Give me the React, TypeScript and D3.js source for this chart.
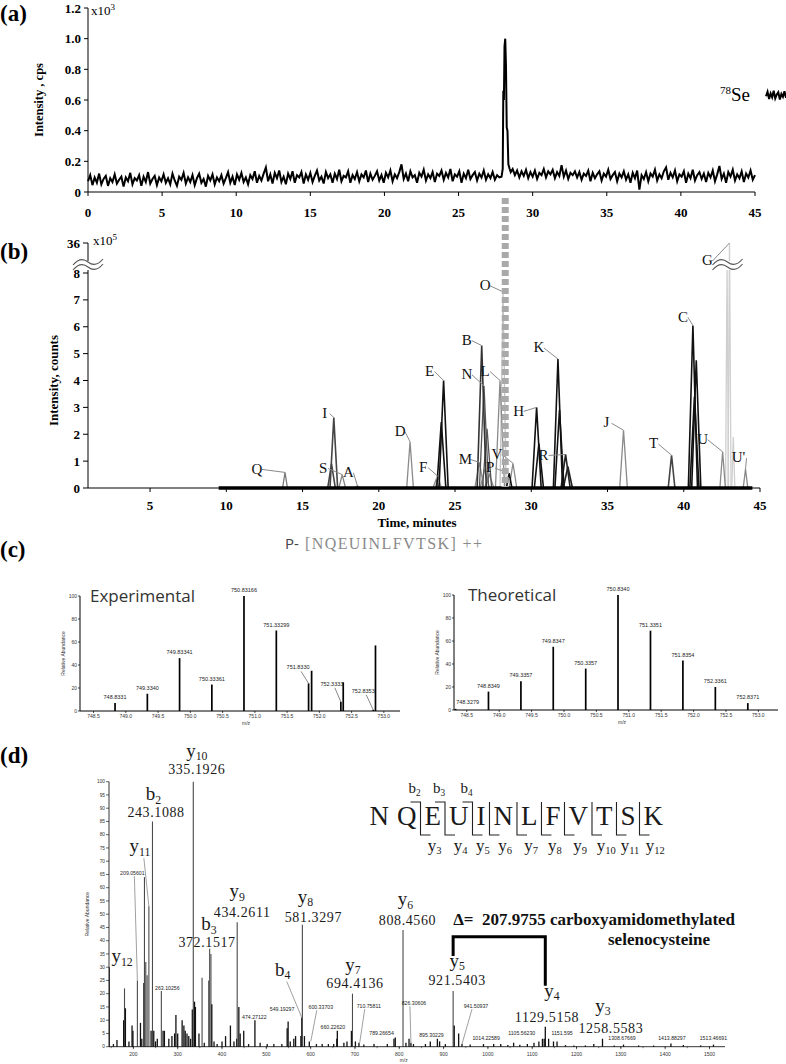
import * as d3 from "d3";

const W = 786;
const H = 1064;
const SERIF = "'Liberation Serif', 'DejaVu Serif', serif";
const SANS = "'Liberation Sans', 'DejaVu Sans', sans-serif";
const ROUND = "'Open Sans', 'Noto Sans', sans-serif";

/* ---------- (a) 78Se ICP-MS trace, cps, one reading every 0.15 min ---------- */
const seStep = 0.15;
const seNoise = [
  70, 110, 45, 95, 60, 120, 50, 85, 105, 40, 90, 65, 115, 55, 80, 100, 35, 95, 70, 125,
  50, 90, 75, 110, 40, 100, 65, 130, 55, 85, 105, 45, 95, 70, 115, 60, 90, 50, 120, 75,
  40, 100, 80, 125, 55, 95, 65, 110, 45, 90, 120, 60, 85, 35, 105, 75, 115, 50, 95, 70,
  110, 55, 90, 130, 60, 100, 45, 115, 80, 125, 65, 95, 50, 110, 85, 135, 60, 105, 75, 120,
  160, 70, 115, 55, 125, 90, 140, 65, 100, 50, 120, 85, 135, 60, 110, 95, 130, 55, 115, 80,
  125, 65, 105, 140, 75, 100, 55, 130, 90, 115, 60, 120, 85, 145, 70, 105, 95, 135, 60, 110,
  85, 130, 70, 115, 95, 140, 65, 120, 80, 105, 135, 75, 110, 60, 125, 95, 140, 70, 115, 90,
  130, 180, 85, 120, 70, 135, 95, 110, 60, 125, 100, 145, 75, 115, 90, 130, 65, 120, 105, 140,
  80, 125, 95, 150, 70, 115, 100, 135, 60, 120, 90, 145, 85, 110, 130, 75, 120, 95, 140, 80,
  115, 90, 130, 80, 110, 95, 100, 100, 100, 100, 100, 150, 110, 140, 95, 135, 105, 145, 90, 130,
  100, 140, 85, 125, 110, 150, 95, 135, 115, 145, 90, 130, 105, 175, 100, 140, 85, 125, 110, 135,
  95, 130, 80, 120, 105, 140, 70, 125, 90, 115, 135, 75, 120, 100, 145, 85, 110, 130, 70, 120,
  95, 135, 80, 115, 60, 125, 90, 140, 15, 110, 85, 130, 70, 120, 100, 145, 75, 115, 90, 135,
  160, 80, 125, 95, 140, 70, 115, 100, 135, 60, 120, 90, 145, 75, 110, 130, 85, 120, 65, 125,
  95, 140, 70, 115, 170, 85, 120, 60, 130, 100, 145, 75, 115, 90, 135, 65, 120, 95, 140, 80,
  110,
];
// the Se peak itself, [min, cps]
const sePeak: [number, number][] = [
  [27.9, 100], [27.98, 150], [28.02, 660], [28.06, 600], [28.1, 950], [28.15, 1000],
  [28.2, 820], [28.25, 420], [28.3, 400], [28.36, 180], [28.45, 150], [28.52, 130],
];
const cpsTicks = [0, 200, 400, 600, 800, 1000, 1200];
const minuteTicks = [0, 5, 10, 15, 20, 25, 30, 35, 40, 45];

/* ---------- (b) extracted ion chromatograms, counts x10^5 ---------- */
const peakNames = ["Q", "I", "S", "A", "D", "F", "E", "M", "B", "N", "L", "O", "V", "P", "H", "K", "R", "J", "T", "C", "U", "G", "U'"];
const peakTimes = [13.85, 17.05, 17.6, 18.6, 22.05, 23.9, 24.25, 26.6, 26.75, 26.9, 27.95, 28.15, 28.8, 28.55, 30.35, 31.75, 32.25, 36.05, 39.2, 40.6, 42.55, 43.0, 44.05];
const peakHeights = [0.58, 2.62, 0.5, 0.08, 1.72, 0.42, 4.0, 0.95, 5.3, 3.8, 4.0, 7.3, 0.92, 0.55, 3.0, 4.8, 1.25, 2.15, 1.22, 6.05, 1.35, 36, 0.7];
const shoulderOf = ["I", "F", "E", "M", "M", "N", "H", "R", "K", "C", "C", "G", "G"];
const shoulderTimes = [16.9, 23.75, 24.1, 26.95, 27.25, 27.1, 30.5, 32.4, 31.85, 40.7, 40.82, 42.84, 43.25];
const shoulderHeights = [0.9, 0.3, 2.45, 0.7, 0.5, 2.2, 1.65, 0.8, 2.9, 3.4, 4.75, 14, 1.9];
const countTicks = [0, 1, 2, 3, 4, 5, 6, 7, 8, 36];
const ridgeSpan = [9.5, 44.5];

/* ---------- (c) isotope envelopes ---------- */
const expMz = [748.8331, 749.334, 749.8334, 750.3336, 750.8317, 751.333, 751.833, 751.88, 752.3333, 752.37, 752.8353, 752.87];
const expAbund = [7, 15, 46, 23, 100, 70, 24, 35, 8, 25, 1, 57];
const expTags = ["748.8331", "749.3340", "749.83341", "750.33361", "750.83166", "751.33299", "751.8330", "", "752.3333", "", "752.8353", ""];
const theoMz = [748.3279, 748.8349, 749.3357, 749.8347, 750.3357, 750.834, 751.3351, 751.8354, 752.3361, 752.8371];
const theoAbund = [1, 16, 25, 55, 36, 100, 69, 43, 20, 6];
const theoTags = ["748.3279", "748.8349", "749.3357", "749.8347", "750.3357", "750.8340", "751.3351", "751.8354", "752.3361", "752.8371"];
const isoTicks = [748.5, 749.0, 749.5, 750.0, 750.5, 751.0, 751.5, 752.0, 752.5, 753.0];
const abundTicks = [0, 20, 40, 60, 80, 100];
const peptideTitle = "[NQEUINLFVTSK] ++";

/* ---------- (d) MS/MS spectrum ---------- */
const msmsMz = [
  146, 155, 163, 178, 180, 182, 190, 197, 199, 209.056,
  216, 219, 223, 225, 228, 231, 235, 240, 243.1088, 246,
  250, 254, 263.1026, 267, 270, 280, 287, 293, 296, 300,
  310, 314, 317, 321, 325, 329, 333, 335.1926, 338, 340,
  348, 355, 360, 370, 372.1517, 375, 377, 382, 389, 400,
  408, 419, 427, 433, 434.2611, 438, 441, 449, 460, 474.2712,
  486, 502, 517, 535, 547, 549.193, 554, 562, 566, 578,
  580, 581.3297, 586, 597, 613, 626, 640, 652, 659, 660.2262,
  675, 682, 692, 694.4136, 701, 709, 720, 743, 773, 788,
  791, 808.456, 815, 822, 826.3061, 832, 859, 870, 886, 891,
  904, 921.5403, 924, 934, 941.5094, 960, 990, 1013, 1029, 1045,
  1058, 1072, 1089, 1104, 1115, 1123, 1127, 1129.5158, 1137, 1148,
  1156, 1175, 1194, 1220, 1239, 1258.5583, 1285, 1306, 1340, 1374,
  1413, 1441, 1480, 1509,
];
const msmsAbund = [
  30, 1, 2.5, 10, 22, 14.5, 2, 8, 6, 25,
  9, 3, 24, 64, 32, 27, 53, 6, 85, 6,
  2, 3, 21, 6, 6, 3, 4, 5, 12, 5,
  10, 8, 6, 5, 4, 3, 14, 100, 17, 15,
  5, 26, 1.5, 25, 37, 35, 16, 2, 1, 2,
  4, 8, 2, 3, 47, 15, 5, 6, 1, 10,
  1.5, 1, 1, 1, 7, 9.5, 2, 3, 4, 4,
  11, 46, 4, 2, 1, 1, 1, 1, 3, 6,
  1.5, 2, 6, 20, 2, 1.5, 0.8, 1, 1, 3,
  3.5, 44, 1.5, 3, 1.5, 1, 1, 2, 3, 2,
  1, 21, 8, 5, 1, 0.8, 1, 1, 1, 0.6,
  1.5, 0.7, 1, 1.5, 2, 3, 3, 7.5, 3, 2,
  2, 0.6, 0.5, 0.5, 1, 3, 0.5, 0.8, 0.5, 0.5,
  1.2, 0.6, 0.5, 0.8,
];
const ionNames = ["y10", "b2", "y11", "y12", "b3", "y9", "y8", "b4", "y7", "y6", "y5", "y4", "y3"];
const ionMz = [335.1926, 243.1088, 235, 146, 372.1517, 434.2611, 581.3297, 580, 694.4136, 808.456, 921.5403, 1129.5158, 1258.5583];
const ionValues = ["335.1926", "243.1088", "", "", "372.1517", "434.2611", "581.3297", "", "694.4136", "808.4560", "921.5403", "1129.5158", "1258.5583"];
const tagTexts = ["209.05601", "263.10256", "474.27122", "549.19297", "600.33703", "660.22620", "710.75811", "789.26654", "826.30606", "895.30229", "941.50937", "1014.22589", "1105.56230", "1151.595", "1308.67669", "1413.88297", "1513.46691"];
const residues = ["N", "Q", "E", "U", "I", "N", "L", "F", "V", "T", "S", "K"];
const bIons = ["b2", "b3", "b4"];
const yIons = ["y3", "y4", "y5", "y6", "y7", "y8", "y9", "y10", "y11", "y12"];
const mzTicks = [200, 300, 400, 500, 600, 700, 800, 900, 1000, 1100, 1200, 1300, 1400, 1500];
const relTicks = d3.range(0, 101, 5);
const deltaMass = "207.9755";

/* ---------- styling / placement ---------- */
const shade: Record<string, string> = {
  Q: "#7a7a7a", I: "#444", S: "#888", A: "#888", D: "#8a8a8a", F: "#8a8a8a", E: "#111",
  M: "#8a8a8a", B: "#333", N: "#555", L: "#8a8a8a", O: "#c4c4c4", V: "#8a8a8a", P: "#111",
  H: "#111", K: "#111", R: "#222", J: "#8a8a8a", T: "#444", C: "#111", U: "#8a8a8a",
  G: "#cfcfcf", "U'": "#8a8a8a",
};
const halfWidth: Record<string, number> = {
  Q: 0.16, D: 0.22, F: 0.2, O: 0.2, G: 0.1, I: 0.25, P: 0.18, S: 0.22, A: 0.2, V: 0.25,
  U: 0.18, "U'": 0.15, T: 0.22, J: 0.25,
};
const peakLabelShift: Record<string, [number, number]> = {
  Q: [-28, -4], I: [-9, -5], S: [-19, -7], A: [-9, -14], D: [-10, -11], F: [-15, -10],
  E: [-14, -10], M: [-14, -4], B: [-15, -6], N: [-17, -12], L: [-15, -10], O: [-18, -7],
  V: [-16, -10], P: [-19, -6], H: [-18, 3], R: [-22, 0], K: [-19, -12], J: [-17, -8],
  T: [-18, -12], C: [-10, -9], U: [-20, -13], G: [-22, 17], "U'": [-7, -12],
};
const expTagShift: Record<number, [number, number]> = { 6: [-10.5, -14], 8: [-9, -16], 10: [-10, -17] };
const theoTagShift: Record<number, [number, number]> = { 0: [12, -5] };
// name baseline and value baseline, relative to peak top
const ionShift: Record<string, [number, number, number, number]> = {
  y10: [3.5, -25, 3.5, -8], b2: [1, -21, 3.6, -4.5], y11: [-9, -54, 0, 0], y12: [12.6, -5, 0, 0],
  b3: [-0.6, -18.5, -2.6, -1.6], y9: [0, -25, 5, -5], y8: [3, -22, 11, -3], b4: [-19, -42, 0, 0],
  y7: [0.5, -23, 2.5, -6], y6: [2.5, -25, 4.5, -5], y5: [4, -24, 4, -6], y4: [6.7, -30, 1.7, -5],
  y3: [0.4, -27, 8.4, -6],
};
const ionLeader = new Set(["y11", "b4"]);
// [dx from peak, baseline above axis]
const tagShift: Record<string, [number, number]> = {
  "209.05601": [-5, 172], "263.10256": [6, 57], "474.27122": [-0.6, 28], "549.19297": [-6, 36],
  "600.33703": [10, 38], "660.22620": [-4.5, 18], "710.75811": [9, 39], "789.26654": [-13, 12],
  "826.30606": [3, 42], "895.30229": [-10, 10], "941.50937": [14, 39], "1014.22589": [-8, 7],
  "1105.56230": [-13, 12], "1151.595": [7, 12], "1308.67669": [-2.7, 7], "1413.88297": [0.6, 7],
  "1513.46691": [-2, 7],
};
const tagLeader = new Set(["209.05601", "600.33703", "710.75811", "826.30606", "941.50937"]);

type Pt = [number, number];

function PanelLetter({ y, children }: { y: number; children: string }) {
  return (
    <text x={0} y={y} fontFamily={SERIF} fontWeight="bold" fontSize={23}>
      {children}
    </text>
  );
}

function Break({ cx, cy }: { cx: number; cy: number }) {
  const wave = (oy: number) => `M${cx - 15},${cy + oy + 3} q7.5,-9 15,-3 t15,-3`;
  return (
    <g>
      <rect x={cx - 4} y={cy - 3} width={8} height={9} fill="#fff" />
      <path d={wave(-2)} fill="none" stroke="#555" strokeWidth={1.1} />
      <path d={wave(3)} fill="none" stroke="#555" strokeWidth={1.1} />
    </g>
  );
}

function PanelA({ x }: { x: d3.ScaleLinear<number, number> }) {
  const y = d3.scaleLinear().domain([0, 1200]).range([192, 8]);
  const pts: Pt[] = seNoise
    .map((v, i) => [i * seStep, v] as Pt)
    .filter(([t]) => t < 27.88 || t > 28.56)
    .concat(sePeak)
    .sort((a, b) => a[0] - b[0]);
  const trace = d3.line<Pt>().x((d) => x(d[0])).y((d) => y(d[1]))(pts) ?? "";
  const lx = d3.scaleLinear().domain([0, 13]).range([766, 786]);
  const ly = d3.scaleLinear().domain([0, 180]).range([104, 84]);
  const swatch = d3.line<number>().x((_, i) => lx(i)).y((v) => ly(v))(seNoise.slice(0, 14)) ?? "";
  const x0 = x(0);
  return (
    <g>
      <PanelLetter y={21}>(a)</PanelLetter>
      <path d={trace} fill="none" stroke="#000" strokeWidth={2} strokeLinejoin="miter" />
      <line x1={x0} x2={x0} y1={y(1200)} y2={y(0)} stroke="#000" />
      <line x1={x0} x2={x(45)} y1={y(0)} y2={y(0)} stroke="#000" />
      {cpsTicks.map((v) => (
        <g key={v}>
          <line x1={x0 - 4} x2={x0} y1={y(v)} y2={y(v)} stroke="#000" />
          <text x={x0 - 7} y={y(v)} dy="0.35em" textAnchor="end" fontFamily={SERIF} fontWeight="bold" fontSize={13}>
            {v === 0 ? "0" : (v / 1000).toFixed(1)}
          </text>
        </g>
      ))}
      <text x={x0 + 3} y={15} fontFamily={SERIF} fontSize={13}>
        x10<tspan fontSize={9} dy={-5}>3</tspan>
      </text>
      {minuteTicks.map((t) => (
        <g key={t}>
          <line x1={x(t)} x2={x(t)} y1={y(0)} y2={y(0) + 4} stroke="#000" />
          <text x={x(t)} y={217} textAnchor="middle" fontFamily={SERIF} fontWeight="bold" fontSize={13}>
            {t}
          </text>
        </g>
      ))}
      <text
        transform={`translate(43,${(y(0) + y(1200)) / 2}) rotate(-90)`}
        textAnchor="middle"
        fontFamily={SERIF}
        fontWeight="bold"
        fontSize={12.5}
      >
        Intensity , cps
      </text>
      <text x={720} y={101} fontFamily={SERIF} fontSize={19}>
        <tspan fontSize={11} dy={-7}>78</tspan>
        <tspan dy={7}>Se</tspan>
      </text>
      <path d={swatch} fill="none" stroke="#000" strokeWidth={2} />
    </g>
  );
}

function PanelB() {
  const x = d3.scaleLinear().domain([0.93, 45]).range([88, 760]);
  const y = d3.scaleLinear().domain([0, 8, 36]).range([488, 273, 243]);
  const tri = d3.line<Pt>().x((d) => x(d[0])).y((d) => y(d[1]));
  const shape = (t: number, h: number, hw: number) => tri([[t - hw, 0], [t, h], [t + hw, 0]]) ?? "";
  const peaks = peakNames.map((name, i) => ({ name, t: peakTimes[i], h: peakHeights[i] }));
  const shoulders = shoulderOf.map((name, i) => ({ name, t: shoulderTimes[i], h: shoulderHeights[i] }));
  const all = [...peaks, ...shoulders].sort(
    (a, b) => d3.hsl(shade[b.name]).l - d3.hsl(shade[a.name]).l
  );
  const x0 = x.range()[0];
  return (
    <g>
      <PanelLetter y={259}>(b)</PanelLetter>
      {all.map((p, i) => (
        <path
          key={i}
          d={shape(p.t, p.h, halfWidth[p.name] ?? 0.3)}
          fill="none"
          stroke={shade[p.name]}
          strokeWidth={d3.hsl(shade[p.name]).l < 0.3 ? 1.6 : 1.3}
        />
      ))}
      {peaks.map((p) => {
        const px = x(p.t);
        const py = y(p.h);
        const [dx, dy] = peakLabelShift[p.name];
        const lx = px + dx;
        const ly = py + dy;
        return (
          <g key={p.name}>
            <line x1={lx + (p.name.length > 1 ? 8 : 5)} y1={ly + 1} x2={px} y2={py} stroke="#8a8a8a" strokeWidth={1} />
            <text x={lx} y={ly} dy="0.35em" textAnchor="middle" fontFamily={SERIF} fontSize={15} fill="#111">
              {p.name}
            </text>
          </g>
        );
      })}
      <line x1={x(ridgeSpan[0])} x2={x(ridgeSpan[1])} y1={y(0)} y2={y(0)} stroke="#000" strokeWidth={3.5} />
      <line x1={x0} x2={x(45)} y1={y(0)} y2={y(0)} stroke="#000" />
      {d3.range(5, 46, 5).map((t) => (
        <g key={t}>
          <line x1={x(t)} x2={x(t)} y1={y(0)} y2={y(0) + 4} stroke="#000" />
          <text x={x(t)} y={510} textAnchor="middle" fontFamily={SERIF} fontWeight="bold" fontSize={13}>
            {t}
          </text>
        </g>
      ))}
      <line x1={x0} x2={x0} y1={y(36)} y2={y(0)} stroke="#000" />
      {countTicks.map((v) => (
        <g key={v}>
          <line x1={x0 - 5} x2={x0} y1={y(v)} y2={y(v)} stroke="#000" />
          <text x={x0 - 8} y={y(v)} dy="0.35em" textAnchor="end" fontFamily={SERIF} fontWeight="bold" fontSize={13}>
            {v}
          </text>
        </g>
      ))}
      <text x={x0 + 5} y={y(36) + 2} fontFamily={SERIF} fontSize={13}>
        x10<tspan fontSize={9} dy={-5}>5</tspan>
      </text>
      <Break cx={x0} cy={y(8) - 9} />
      <Break cx={x(43) - 2} cy={y(8) - 9} />
      <text
        transform={`translate(58,${(y(0) + y(8)) / 2}) rotate(-90)`}
        textAnchor="middle"
        fontFamily={SERIF}
        fontWeight="bold"
        fontSize={13}
      >
        Intensity, counts
      </text>
      <text x={417} y={527} textAnchor="middle" fontFamily={SERIF} fontWeight="bold" fontSize={13}>
        Time, minutes
      </text>
    </g>
  );
}

function IsoSpectrum(props: {
  left: number;
  right: number;
  top: number;
  bottom: number;
  domain: [number, number];
  mz: number[];
  abund: number[];
  tags: string[];
  shift: Record<number, [number, number]>;
  title: string;
  titleX: number;
}) {
  const { left, right, top, bottom, domain, mz, abund, tags, shift, title, titleX } = props;
  const x = d3.scaleLinear().domain(domain).range([left, right]);
  const y = d3.scaleLinear().domain([0, 100]).range([bottom, top]);
  return (
    <g>
      {mz.map((m, i) => (
        <line key={i} x1={x(m)} x2={x(m)} y1={y(0)} y2={y(abund[i])} stroke="#000" strokeWidth={1.7} />
      ))}
      {tags.map((t, i) => {
        if (!t) return null;
        const px = x(mz[i]);
        const py = y(abund[i]);
        const s = shift[i];
        const lx = s ? px + s[0] : px;
        const ly = s ? py + s[1] : py - 4;
        return (
          <g key={`t${i}`}>
            {s && s[0] < 0 ? <line x1={lx + 3} y1={ly + 2} x2={px} y2={py} stroke="#555" strokeWidth={0.7} /> : null}
            <text x={lx} y={ly} textAnchor="middle" fontFamily={SANS} fontSize={5.5} fill="#222">
              {t}
            </text>
          </g>
        );
      })}
      <line x1={left} x2={left} y1={top} y2={bottom} stroke="#000" strokeWidth={1} />
      <line x1={left} x2={right} y1={bottom} y2={bottom} stroke="#000" strokeWidth={1} />
      {abundTicks.map((v) => (
        <g key={v}>
          <line x1={left - 2} x2={left} y1={y(v)} y2={y(v)} stroke="#000" strokeWidth={0.7} />
          <text x={left - 3} y={y(v)} dy="0.35em" textAnchor="end" fontFamily={SANS} fontSize={5} fill="#333">
            {v}
          </text>
        </g>
      ))}
      {isoTicks.map((v) => (
        <g key={v}>
          <line x1={x(v)} x2={x(v)} y1={bottom} y2={bottom + 2} stroke="#000" strokeWidth={0.7} />
          <text x={x(v)} y={bottom + 7} textAnchor="middle" fontFamily={SANS} fontSize={5} fill="#333">
            {v.toFixed(1)}
          </text>
        </g>
      ))}
      <text x={x(d3.mean(domain) as number) + 6} y={bottom + 14} textAnchor="middle" fontFamily={SANS} fontSize={5} fill="#333">
        m/z
      </text>
      <text
        transform={`translate(${left - 15},${(top + bottom) / 2}) rotate(-90)`}
        textAnchor="middle"
        fontFamily={SANS}
        fontSize={5}
        fill="#333"
      >
        Relative Abundance
      </text>
      <text x={titleX} y={top + 6} fontFamily={ROUND} fontSize={17} fill="#333">
        {title}
      </text>
    </g>
  );
}

function PanelC() {
  return (
    <g>
      <PanelLetter y={557}>(c)</PanelLetter>
      <text x={285} y={549} fontFamily={ROUND} fontSize={15} fill="#444">
        P-
      </text>
      <text x={305} y={549} fontFamily={SERIF} fontSize={16} fill="#8a8a8a" textLength={177} lengthAdjust="spacing">
        {peptideTitle}
      </text>
      <IsoSpectrum
        left={80}
        right={400}
        top={596}
        bottom={711}
        domain={[748.29, 753.25]}
        mz={expMz}
        abund={expAbund}
        tags={expTags}
        shift={expTagShift}
        title="Experimental"
        titleX={90}
      />
      <IsoSpectrum
        left={454}
        right={778}
        top={595}
        bottom={710}
        domain={[748.303, 753.303]}
        mz={theoMz}
        abund={theoAbund}
        tags={theoTags}
        shift={theoTagShift}
        title="Theoretical"
        titleX={468}
      />
    </g>
  );
}

function IonLabel({ x, y, name, size }: { x: number; y: number; name: string; size: number }) {
  return (
    <text x={x} y={y} textAnchor="middle" fontFamily={SERIF} fontSize={size} fill="#1a1a1a">
      {name[0]}
      <tspan fontSize={size * 0.62} dy={size * 0.18}>
        {name.slice(1)}
      </tspan>
    </text>
  );
}

function Peptide() {
  const fontSize = 27;
  const gap = 8;
  const ctx = document.createElement("canvas").getContext("2d");
  const widthOf = (s: string) => {
    if (!ctx) return fontSize * 0.65;
    ctx.font = `${fontSize}px 'Liberation Serif'`;
    return ctx.measureText(s).width;
  };
  const widths = residues.map(widthOf);
  const total = d3.sum(widths) + gap * (residues.length - 1);
  const start = 663 - total;
  const lefts = widths.map((_, i) => start + d3.sum(widths.slice(0, i)) + gap * i);
  const centers = lefts.map((l, i) => l + widths[i] / 2);
  const sep = (i: number) => lefts[i] + widths[i] + gap / 2;
  return (
    <g>
      {residues.map((r, i) => (
        <text key={i} x={lefts[i]} y={825} fontFamily={SERIF} fontSize={fontSize} fill="#1a1a1a">
          {r}
        </text>
      ))}
      {yIons.map((n, k) => {
        const i = k + 1;
        const sx = sep(i);
        const hasB = k < bIons.length;
        return (
          <g key={n}>
            <path
              d={`${hasB ? `M${sx - 10},802 H${sx}` : `M${sx},802`} V835 H${sx + 10}`}
              fill="none"
              stroke="#222"
              strokeWidth={1.1}
            />
            <IonLabel x={centers[i + 1] + 2} y={851} name={n} size={17} />
            {hasB ? <IonLabel x={sx - 6} y={793} name={bIons[k]} size={15} /> : null}
          </g>
        );
      })}
    </g>
  );
}

function PanelD() {
  const x = d3.scaleLinear().domain([145, 1535]).range([109, 725]);
  const y = d3.scaleLinear().domain([0, 100]).range([1046.7, 781.7]);
  const base = y(0);
  const topOf = (m: number) => {
    const i = d3.minIndex(msmsMz, (v) => Math.abs(v - m));
    return y(msmsAbund[i]);
  };
  const y5 = ionNames.indexOf("y5");
  const y4 = ionNames.indexOf("y4");
  const bx1 = x(ionMz[y5]);
  const bx2 = x(ionMz[y4]);
  const bLeftBottom = topOf(ionMz[y5]) + ionShift.y5[1] - 11;
  const bRightBottom = topOf(ionMz[y4]) + ionShift.y4[1] - 11;
  const bTop = base - 110;
  return (
    <g>
      <PanelLetter y={763}>(d)</PanelLetter>
      {msmsMz.map((m, i) => (
        <line
          key={i}
          x1={x(m)}
          x2={x(m)}
          y1={base}
          y2={y(msmsAbund[i])}
          stroke={msmsAbund[i] >= 20 ? "#4a4a4a" : "#111"}
          strokeWidth={msmsAbund[i] >= 20 ? 1.1 : 1.3}
        />
      ))}
      <line x1={x(145)} x2={x(145)} y1={y(100)} y2={base} stroke="#000" strokeWidth={0.8} />
      <line x1={x(145)} x2={x(1535)} y1={base} y2={base} stroke="#000" strokeWidth={0.8} />
      {relTicks.map((v) => (
        <g key={v}>
          <line x1={x(145) - 3} x2={x(145)} y1={y(v)} y2={y(v)} stroke="#000" strokeWidth={0.6} />
          <text x={x(145) - 4} y={y(v)} dy="0.35em" textAnchor="end" fontFamily={SANS} fontSize={4.8} fill="#333">
            {v}
          </text>
        </g>
      ))}
      {mzTicks.map((v) => (
        <g key={v}>
          <line x1={x(v)} x2={x(v)} y1={base} y2={base + 2.5} stroke="#000" strokeWidth={0.6} />
          <text x={x(v)} y={base + 9} textAnchor="middle" fontFamily={SANS} fontSize={5} fill="#333">
            {v}
          </text>
        </g>
      ))}
      {d3.range(150, 1535, 50).map((v) => (
        <line key={`m${v}`} x1={x(v)} x2={x(v)} y1={base} y2={base + 1.5} stroke="#000" strokeWidth={0.5} />
      ))}
      <text x={x(810)} y={base + 15} textAnchor="middle" fontFamily={SANS} fontSize={4.8} fill="#333">
        m/z
      </text>
      <text
        transform={`translate(89,${(base + y(100)) / 2}) rotate(-90)`}
        textAnchor="middle"
        fontFamily={SANS}
        fontSize={5}
        fill="#333"
      >
        Relative Abundance
      </text>
      {tagTexts.map((t) => {
        const m = parseFloat(t);
        const px = x(m);
        const [dx, up] = tagShift[t];
        const lx = px + dx;
        const ly = base - up;
        return (
          <g key={t}>
            {tagLeader.has(t) ? (
              <line x1={lx + (dx > 0 ? -4 : 2)} y1={ly + 1.5} x2={px} y2={topOf(m)} stroke="#777" strokeWidth={0.7} />
            ) : null}
            <text x={lx} y={ly} textAnchor="middle" fontFamily={SANS} fontSize={5.2} fill="#222">
              {t}
            </text>
          </g>
        );
      })}
      {ionNames.map((n, i) => {
        const px = x(ionMz[i]);
        const py = topOf(ionMz[i]);
        const [ndx, ndy, vdx, vdy] = ionShift[n];
        return (
          <g key={n}>
            {ionLeader.has(n) ? (
              <line x1={px + ndx + 4} y1={py + ndy + 6} x2={px} y2={py} stroke="#888" strokeWidth={0.8} />
            ) : null}
            <IonLabel x={px + ndx} y={py + ndy} name={n} size={19} />
            {ionValues[i] ? (
              <text x={px + vdx} y={py + vdy} textAnchor="middle" fontFamily={SERIF} fontSize={14} letterSpacing={0.6} fill="#1a1a1a">
                {ionValues[i]}
              </text>
            ) : null}
          </g>
        );
      })}
      <path
        d={`M${bx1},${bLeftBottom} V${bTop} H${bx2} V${bRightBottom}`}
        fill="none"
        stroke="#000"
        strokeWidth={3}
      />
      <text x={bx1} y={925} fontFamily={SERIF} fontWeight="bold" fontSize={17} fill="#111">
        {"Δ=\u00a0 " + deltaMass + " carboxyamidomethylated"}
      </text>
      <text x={608} y={945} fontFamily={SERIF} fontWeight="bold" fontSize={17} fill="#111">
        selenocysteine
      </text>
      <Peptide />
    </g>
  );
}

export default function App() {
  const xA = d3.scaleLinear().domain([0, 45]).range([88, 755]);
  const seTop = sePeak.reduce((a, b) => (b[1] > a[1] ? b : a));
  return (
    <svg
      width={W}
      height={H}
      viewBox={`0 0 ${W} ${H}`}
      style={{ position: "absolute", left: 0, top: 0, background: "#fff" }}
    >
      <rect width={W} height={H} fill="#fff" />
      <PanelA x={xA} />
      <PanelB />
      <line
        x1={xA(seTop[0])}
        x2={xA(seTop[0])}
        y1={198}
        y2={487}
        stroke="#a9a9a9"
        strokeWidth={7}
        strokeDasharray="6 3"
      />
      <PanelC />
      <PanelD />
    </svg>
  );
}
